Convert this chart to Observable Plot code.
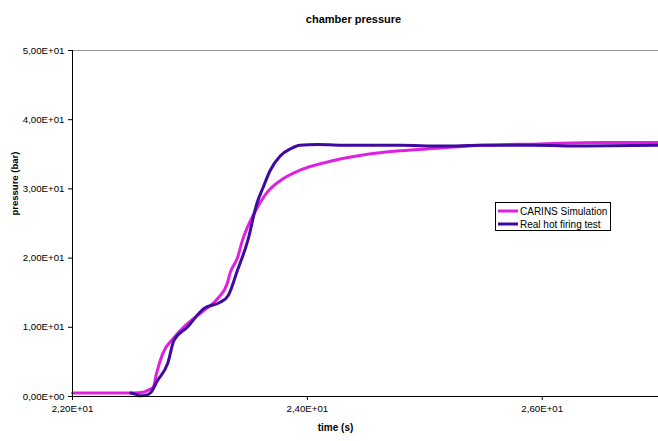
<!DOCTYPE html>
<html>
<head>
<meta charset="utf-8">
<script src="https://cdn.jsdelivr.net/npm/d3@7"></script>
<script src="https://cdn.jsdelivr.net/npm/@observablehq/plot@0.6"></script>
<style>
  html, body { margin: 0; padding: 0; background: #fff; }
  #wrap { position: relative; width: 658px; height: 441px; font-family: "Liberation Sans", Arial, sans-serif; }
  #legend { position: absolute; left: 495px; top: 202px; width: 116px; height: 29px; border: 1px solid #000; background: #fff; box-sizing: border-box; font-size: 10px; }
  .row { position: absolute; left: 1px; height: 12px; display: flex; align-items: center; white-space: nowrap; }
  .row svg { width: 21px; height: 6px; margin-right: 2px; }
</style>
</head>
<body>
<div id="wrap"></div>
<script>
// ---- data ----
const simTime = [22.000, 22.523, 22.602, 22.654, 22.689, 22.715, 22.768, 22.864, 22.977, 23.117, 23.239, 23.317, 23.343, 23.404, 23.448, 23.561, 23.657, 23.797, 23.937, 24.224, 24.512, 24.791, 25.132, 25.472, 25.987, 26.493, 26.990];
const simPressure = [0.5, 0.5, 0.6, 1.0, 1.4, 3.3, 6.2, 8.5, 10.5, 12.4, 14.2, 16.3, 17.9, 20.0, 22.6, 26.9, 29.5, 31.5, 32.7, 34.1, 35.0, 35.5, 35.9, 36.3, 36.5, 36.7, 36.7];

const testTime = [22.497, 22.541, 22.576, 22.628, 22.663, 22.724, 22.811, 22.864, 22.977, 23.117, 23.256, 23.326, 23.404, 23.492, 23.570, 23.623, 23.684, 23.771, 23.858, 23.937, 24.085, 24.364, 24.791, 25.140, 25.489, 25.926, 26.362, 26.990];
const testPressure = [0.5, 0.3, 0.1, 0.2, 0.5, 2.3, 4.8, 8.1, 10.0, 12.7, 13.6, 14.6, 18.2, 22.5, 27.9, 30.2, 32.7, 34.8, 35.8, 36.3, 36.4, 36.3, 36.3, 36.2, 36.3, 36.3, 36.2, 36.3];

const seriesNames = ["CARINS Simulation", "Real hot firing test"];
const seriesColors = ["#e020e0", "#3f0aa0"];
const xTicks = [22, 24, 26];
const yTicks = [0, 10, 20, 30, 40, 50];
const titleText = "chamber pressure";
const xLabel = "time (s)";
const yLabel = "pressure (bar)";

const sim = simTime.map((t, i) => ({t, p: simPressure[i]}));
const test = testTime.map((t, i) => ({t, p: testPressure[i]}));

function sci(d) {
  const [m, e] = d.toExponential(2).split("e");
  const sign = e[0];
  const digits = e.slice(1).padStart(2, "0");
  return m.replace(".", ",") + "E" + sign + digits;
}

const chart = Plot.plot({
  width: 658,
  height: 441,
  marginLeft: 72,
  marginRight: 0,
  marginTop: 50,
  marginBottom: 45,
  style: {fontFamily: "Liberation Sans, Arial, sans-serif", fontSize: "9.7px", color: "#000", background: "#fff"},
  x: {domain: [22, 26.99]},
  y: {domain: [0, 50]},
  marks: [
    Plot.ruleY([50], {stroke: "#999", strokeWidth: 1}),
    Plot.axisY({ticks: yTicks, tickFormat: sci, tickSize: 4, tickPadding: 4, label: null, stroke: "#000"}),
    Plot.axisX({ticks: xTicks, tickFormat: sci, tickSize: 4, tickPadding: 5, label: null, stroke: "#000"}),
    Plot.line(sim, {x: "t", y: "p", stroke: seriesColors[0], strokeWidth: 3, strokeLinejoin: "round", curve: "monotone-x"}),
    Plot.line(test, {x: "t", y: "p", stroke: seriesColors[1], strokeWidth: 3, strokeLinejoin: "round", curve: "monotone-x"}),
    Plot.ruleX([22], {stroke: "#000", strokeWidth: 1}),
    Plot.ruleY([0], {stroke: "#000", strokeWidth: 1}),
    Plot.text([titleText], {frameAnchor: "top", dx: -12, dy: -35, fontWeight: "bold", fontSize: 11}),
    Plot.text([xLabel], {frameAnchor: "bottom", dx: -30, dy: 34, fontWeight: "bold", fontSize: 10}),
    Plot.text([yLabel], {frameAnchor: "left", dx: -58, dy: -8, rotate: -90, fontWeight: "bold", fontSize: 9.5})
  ]
});

const wrap = document.getElementById("wrap");
wrap.appendChild(chart);

const legend = document.createElement("div");
legend.id = "legend";
seriesNames.forEach((name, i) => {
  const row = document.createElement("div");
  row.className = "row";
  row.style.top = (i === 0 ? 2 : 15) + "px";
  row.innerHTML = `<svg viewBox="0 0 21 6"><line x1="1" y1="3" x2="21" y2="3" stroke="${seriesColors[i]}" stroke-width="3"/></svg><span>${name}</span>`;
  legend.appendChild(row);
});
wrap.appendChild(legend);
</script>
</body>
</html>
